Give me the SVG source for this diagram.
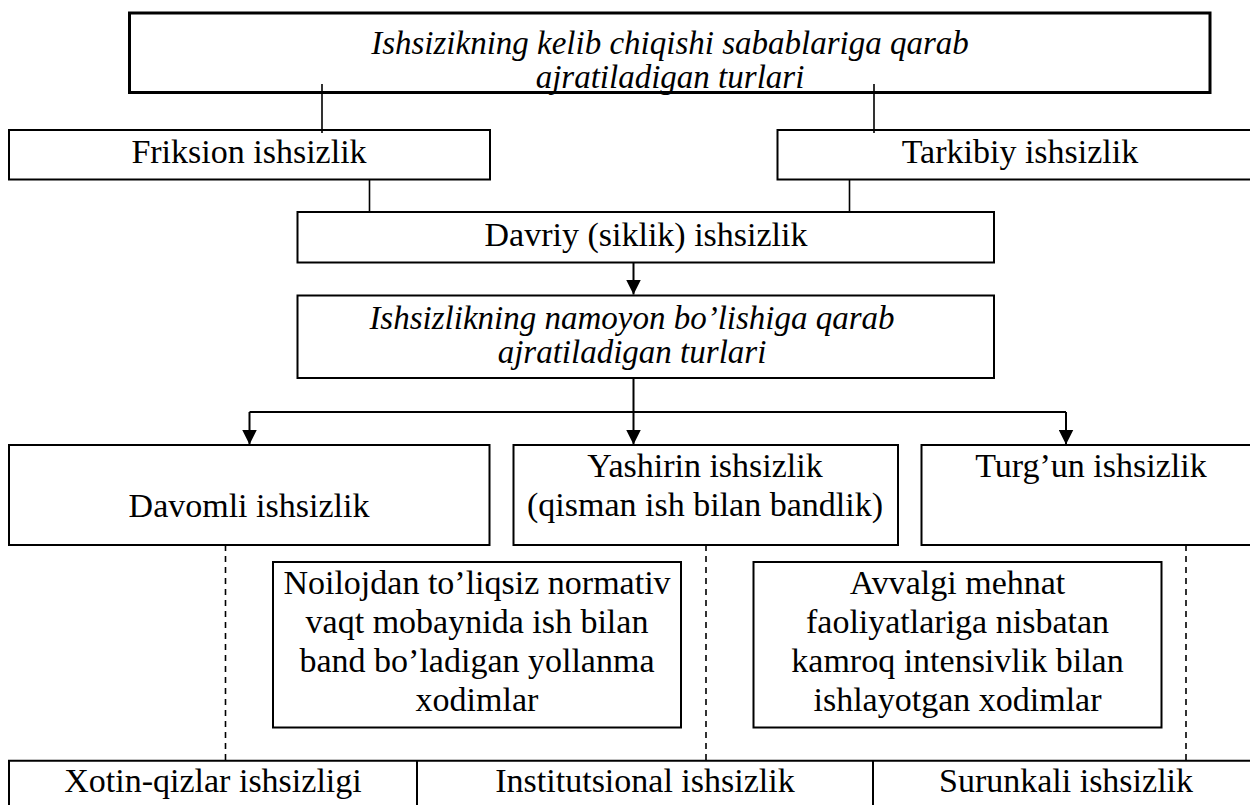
<svg xmlns="http://www.w3.org/2000/svg" width="1250" height="805" viewBox="0 0 1250 805">
<style>
.box{fill:#fff;stroke:#000;stroke-width:2}
.t{font-family:"Liberation Serif","Times New Roman",serif;font-size:34px;fill:#000;text-anchor:middle}
.i{font-style:italic;font-size:33px}
.ln{stroke:#000;stroke-width:1.6;fill:none}
.ar{stroke:#000;stroke-width:2;fill:none;marker-end:url(#ah)}
.ds{stroke:#000;stroke-width:1.6;fill:none;stroke-dasharray:6 5}
</style>
<defs>
<marker id="ah" markerUnits="userSpaceOnUse" markerWidth="15" markerHeight="15" refX="15" refY="7.5" orient="auto" viewBox="0 0 15 15">
<path d="M0,0 L15,7.5 L0,15 Z" fill="#000"/>
</marker>
</defs>
<rect width="1250" height="805" fill="#fff"/>
<g id="n-top">
<rect class="box" x="129.5" y="13" width="1080.5" height="79.5" style="stroke-width:3"/>
<text class="t i" x="670" y="54">Ishsizikning kelib chiqishi sabablariga qarab</text>
<text class="t i" x="670" y="88">ajratiladigan turlari</text>
</g>
<g id="n-friksion">
<rect class="box" x="9" y="130" width="481" height="49.5"/>
<text class="t" x="249" y="163">Friksion ishsizlik</text>
</g>
<g id="n-tarkibiy">
<rect class="box" x="777.5" y="130" width="490" height="49.5"/>
<text class="t" x="1020" y="163">Tarkibiy ishsizlik</text>
</g>
<g id="n-davriy">
<rect class="box" x="297.5" y="212" width="696.5" height="50.5"/>
<text class="t" x="646" y="246">Davriy (siklik) ishsizlik</text>
</g>
<g id="n-namoyon">
<rect class="box" x="297.5" y="295.5" width="696.5" height="82.5"/>
<text class="t i" x="632" y="329">Ishsizlikning namoyon bo’lishiga qarab</text>
<text class="t i" x="632" y="363">ajratiladigan turlari</text>
</g>
<g id="n-davomli">
<rect class="box" x="9" y="445" width="480.5" height="100"/>
<text class="t" x="249" y="517">Davomli ishsizlik</text>
</g>
<g id="n-yashirin">
<rect class="box" x="513.5" y="445" width="384.5" height="100"/>
<text class="t" x="705" y="477">Yashirin ishsizlik</text>
<text class="t" x="705" y="516">(qisman ish bilan bandlik)</text>
</g>
<g id="n-turgun">
<rect class="box" x="921.5" y="445" width="340" height="100"/>
<text class="t" x="1091" y="477">Turg’un ishsizlik</text>
</g>
<g id="n-noilojdan">
<rect class="box" x="273" y="562" width="408" height="165.5"/>
<text class="t" x="477" y="594">Noilojdan to’liqsiz normativ</text>
<text class="t" x="477" y="633">vaqt mobaynida ish bilan</text>
<text class="t" x="477" y="672">band bo’ladigan yollanma</text>
<text class="t" x="477" y="711">xodimlar</text>
</g>
<g id="n-avvalgi">
<rect class="box" x="753.5" y="562" width="408" height="165.5"/>
<text class="t" x="957.5" y="594">Avvalgi mehnat</text>
<text class="t" x="957.5" y="633">faoliyatlariga nisbatan</text>
<text class="t" x="957.5" y="672">kamroq intensivlik bilan</text>
<text class="t" x="957.5" y="711">ishlayotgan xodimlar</text>
</g>
<g id="n-bottom">
<path class="ln" d="M9,806 V760.7 H1252 M417,760.7 V806 M873,760.7 V806" style="stroke-width:2"/>
<text class="t" x="213" y="792">Xotin-qizlar ishsizligi</text>
<text class="t" x="645" y="792">Institutsional ishsizlik</text>
<text class="t" x="1066" y="792">Surunkali ishsizlik</text>
</g>
<g id="connectors">
<path class="ln" d="M322,84 V133 M874,84 V133 M369.5,179.5 V212 M849.5,179.5 V212"/>
<path class="ar" d="M633.5,262.5 V294.5"/>
<path class="ln" d="M633.5,378 V412 M249.5,412 H1066" style="stroke-width:2"/>
<path class="ar" d="M249.5,412 V444.5"/>
<path class="ar" d="M633.5,412 V444.5"/>
<path class="ar" d="M1066,412 V444.5"/>
<path class="ds" d="M225.5,545 V760 M706,545 V760 M1186,545 V760"/>
</g>
</svg>
